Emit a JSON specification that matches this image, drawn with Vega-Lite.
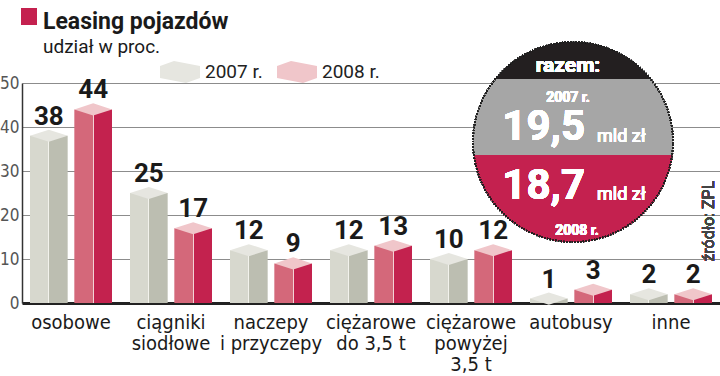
{
  "$schema": "https://vega.github.io/schema/vega-lite/v6.json",
  "width": 698,
  "height": 220,
  "autosize": {"type": "none"},
  "padding": {"left": 22, "top": 83, "right": 0, "bottom": 73},
  "background": "white",
  "title": {
    "text": "Leasing pojazdów",
    "subtitle": "udział w proc.",
    "anchor": "start",
    "frame": "group",
    "dx": 21,
    "offset": -48,
    "font": "Roboto",
    "fontSize": 23,
    "fontWeight": "bold",
    "color": "#1a1a1a",
    "subtitleFont": "Roboto",
    "subtitleFontSize": 19,
    "subtitleColor": "#1a1a1a",
    "subtitlePadding": 4
  },
  "config": {
    "view": {"stroke": null},
    "axis": {"labelFont": "Roboto"}
  },
  "data": {
    "values": [
      {"category": "osobowe", "year": "2007", "value": 38},
      {"category": "osobowe", "year": "2008", "value": 44},
      {"category": "ciągniki siodłowe", "year": "2007", "value": 25},
      {"category": "ciągniki siodłowe", "year": "2008", "value": 17},
      {"category": "naczepy i przyczepy", "year": "2007", "value": 12},
      {"category": "naczepy i przyczepy", "year": "2008", "value": 9},
      {"category": "ciężarowe do 3,5 t", "year": "2007", "value": 12},
      {"category": "ciężarowe do 3,5 t", "year": "2008", "value": 13},
      {"category": "ciężarowe powyżej 3,5 t", "year": "2007", "value": 10},
      {"category": "ciężarowe powyżej 3,5 t", "year": "2008", "value": 12},
      {"category": "autobusy", "year": "2007", "value": 1},
      {"category": "autobusy", "year": "2008", "value": 3},
      {"category": "inne", "year": "2007", "value": 2},
      {"category": "inne", "year": "2008", "value": 2}
    ]
  },
  "encoding": {
    "x": {
      "field": "category",
      "type": "nominal",
      "sort": null,
      "scale": {"paddingInner": 0.18, "paddingOuter": 0.08},
      "axis": {
        "title": null,
        "labelAngle": 0,
        "ticks": false,
        "domainColor": "#222222",
        "domainWidth": 3,
        "labelFont": "DejaVu Sans Condensed, Roboto",
        "labelFontSize": 20,
        "labelColor": "#1a1a1a",
        "labelPadding": 9,
        "labelBaseline": "top",
        "labelLineHeight": 21,
        "labelExpr": "datum.value == 'ciągniki siodłowe' ? ['ciągniki','siodłowe'] : datum.value == 'naczepy i przyczepy' ? ['naczepy','i przyczepy'] : datum.value == 'ciężarowe do 3,5 t' ? ['ciężarowe','do 3,5 t'] : datum.value == 'ciężarowe powyżej 3,5 t' ? ['ciężarowe','powyżej','3,5 t'] : datum.label"
      }
    },
    "y": {
      "field": "value",
      "type": "quantitative",
      "scale": {"domain": [0, 50], "nice": false},
      "axis": {
        "title": null,
        "values": [0, 10, 20, 30, 40, 50],
        "ticks": false,
        "grid": true,
        "gridColor": "#8c8c8c",
        "gridWidth": 1,
        "domainColor": "#333333",
        "domainWidth": 1.5,
        "labelFont": "DejaVu Sans Condensed, Roboto",
        "labelColor": "#555555",
        "labelFontSize": 17,
        "labelPadding": 3
      }
    }
  },
  "layer": [
    {
      "mark": {"type": "bar"},
      "encoding": {
        "xOffset": {"field": "year", "type": "nominal", "scale": {"domain": ["2007", "2008"], "paddingInner": 0.15, "paddingOuter": 0}},
        "fill": {
          "condition": {
            "test": "datum.year == '2007'",
            "value": {"gradient": "linear", "x1": 0, "y1": 0, "x2": 1, "y2": 0, "stops": [
              {"offset": 0, "color": "#d7d8ce"}, {"offset": 0.49, "color": "#d7d8ce"},
              {"offset": 0.49, "color": "#f2f2ec"}, {"offset": 0.515, "color": "#f2f2ec"},
              {"offset": 0.515, "color": "#bcbeb1"}, {"offset": 1, "color": "#bcbeb1"}]}
          },
          "value": {"gradient": "linear", "x1": 0, "y1": 0, "x2": 1, "y2": 0, "stops": [
            {"offset": 0, "color": "#d4687a"}, {"offset": 0.49, "color": "#d4687a"},
            {"offset": 0.49, "color": "#f3d3d6"}, {"offset": 0.515, "color": "#f3d3d6"},
            {"offset": 0.515, "color": "#c3224e"}, {"offset": 1, "color": "#c3224e"}]}
        }
      }
    },
    {
      "mark": {"type": "point", "filled": true, "opacity": 1, "strokeWidth": 0, "shape": "M -1 0 L 0 -0.32 L 1 0 L 0 0.32 Z", "size": 1421},
      "encoding": {
        "xOffset": {"field": "year", "type": "nominal"},
        "color": {
          "field": "year",
          "type": "nominal",
          "scale": {"domain": ["2007", "2008"], "range": ["#e6e6e0", "#f0c6ca"]},
          "legend": {
            "orient": "none",
            "legendX": 138,
            "legendY": -31,
            "direction": "horizontal",
            "title": null,
            "symbolType": "M -1 -0.3 L -0.3 -0.55 L 1 -0.3 L 1 0.3 L 0.3 0.55 L -1 0.3 Z",
            "symbolSize": 1600,
            "symbolStrokeWidth": 0,
            "symbolOpacity": 1,
            "labelFont": "Roboto",
            "labelFontSize": 19,
            "labelColor": "#222222",
            "labelOffset": 5,
            "columnPadding": 14,
            "labelExpr": "datum.label + ' r.'"
          }
        }
      }
    },
    {
      "mark": {"type": "text", "baseline": "alphabetic", "dy": -11, "font": "Roboto", "fontWeight": "bold", "fontSize": 26, "color": "#1a1a1a"},
      "encoding": {
        "xOffset": {"field": "year", "type": "nominal"},
        "text": {"field": "value", "type": "quantitative"}
      }
    },
    {
      "mark": {"type": "point", "filled": true, "opacity": 1, "strokeWidth": 0, "shape": "M -0.7766 -0.63 A 1 1 0 0 1 0.7766 -0.63 Z", "size": 40000, "xOffset": 2},
      "encoding": {"x": {"datum": "autobusy"}, "y": {"datum": 36.59}, "color": {"value": "#231f20"}}
    },
    {
      "mark": {"type": "point", "filled": true, "opacity": 1, "strokeWidth": 0, "shape": "M -0.7766 -0.63 L 0.7766 -0.63 A 1 1 0 0 1 0.9915 0.13 L -0.9915 0.13 A 1 1 0 0 1 -0.7766 -0.63 Z", "size": 40000, "xOffset": 2},
      "encoding": {"x": {"datum": "autobusy"}, "y": {"datum": 36.59}, "color": {"value": "#a6a6a6"}}
    },
    {
      "mark": {"type": "point", "filled": true, "opacity": 1, "strokeWidth": 0, "shape": "M 0.9915 0.13 A 1 1 0 0 1 -0.9915 0.13 Z", "size": 40000, "xOffset": 2},
      "encoding": {"x": {"datum": "autobusy"}, "y": {"datum": 36.59}, "color": {"value": "#c4214f"}}
    },
    {
      "mark": {"type": "point", "filled": false, "shape": "circle", "size": 40000, "xOffset": 2, "strokeWidth": 1.5, "strokeDash": [1.2, 1.6], "opacity": 1},
      "encoding": {"x": {"datum": "autobusy"}, "y": {"datum": 36.59}, "color": {"value": "#222222"}}
    },
    {
      "mark": {"type": "text", "font": "Roboto", "fontWeight": "bold", "fontSize": 21, "color": "white", "align": "center", "baseline": "alphabetic", "dx": -3, "dy": -70},
      "encoding": {"x": {"datum": "autobusy"}, "y": {"datum": 36.59}, "text": {"value": "razem:"}}
    },
    {
      "mark": {"type": "text", "font": "Roboto", "fontWeight": "bold", "fontSize": 14, "color": "white", "align": "center", "baseline": "alphabetic", "dx": -3, "dy": -40},
      "encoding": {"x": {"datum": "autobusy"}, "y": {"datum": 36.59}, "text": {"value": "2007 r."}}
    },
    {
      "mark": {"type": "text", "font": "Roboto", "fontWeight": "bold", "fontSize": 42, "color": "white", "align": "right", "baseline": "alphabetic", "dx": 14, "dy": -2},
      "encoding": {"x": {"datum": "autobusy"}, "y": {"datum": 36.59}, "text": {"value": "19,5"}}
    },
    {
      "mark": {"type": "text", "font": "Roboto", "fontWeight": "normal", "fontSize": 18, "color": "white", "align": "left", "baseline": "alphabetic", "dx": 26, "dy": 0},
      "encoding": {"x": {"datum": "autobusy"}, "y": {"datum": 36.59}, "text": {"value": "mld zł"}}
    },
    {
      "mark": {"type": "text", "font": "Roboto", "fontWeight": "bold", "fontSize": 42, "color": "white", "align": "right", "baseline": "alphabetic", "dx": 14, "dy": 57},
      "encoding": {"x": {"datum": "autobusy"}, "y": {"datum": 36.59}, "text": {"value": "18,7"}}
    },
    {
      "mark": {"type": "text", "font": "Roboto", "fontWeight": "normal", "fontSize": 18, "color": "white", "align": "left", "baseline": "alphabetic", "dx": 26, "dy": 58},
      "encoding": {"x": {"datum": "autobusy"}, "y": {"datum": 36.59}, "text": {"value": "mld zł"}}
    },
    {
      "mark": {"type": "text", "font": "Roboto", "fontWeight": "bold", "fontSize": 14, "color": "white", "align": "center", "baseline": "alphabetic", "dx": 6, "dy": 93},
      "encoding": {"x": {"datum": "autobusy"}, "y": {"datum": 36.59}, "text": {"value": "2008 r."}}
    },
    {
      "mark": {"type": "text", "font": "Roboto", "fontWeight": "normal", "fontSize": 16, "color": "#444444", "align": "center", "baseline": "middle", "angle": 270, "dy": 38},
      "encoding": {"x": {"datum": "inne"}, "y": {"datum": 18.6}, "text": {"value": "źródło: ZPL"}}
    },
    {
      "mark": {"type": "point", "shape": "square", "filled": true, "opacity": 1, "strokeWidth": 0, "size": 256, "xOffset": -42},
      "encoding": {"x": {"datum": "osobowe"}, "y": {"datum": 65.1}, "color": {"value": "#c4214f"}}
    }
  ]
}
